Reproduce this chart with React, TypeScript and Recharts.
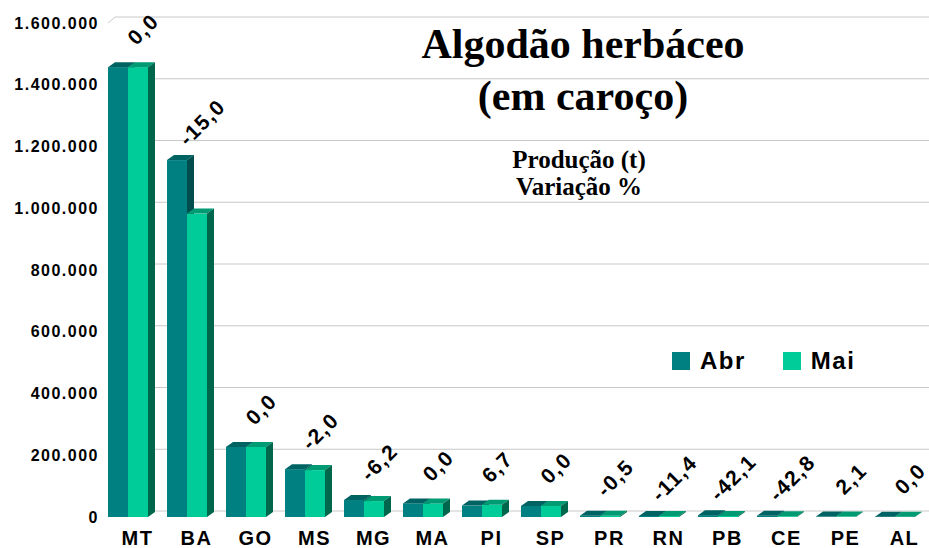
import { BarChart, Bar, XAxis, YAxis, CartesianGrid, LabelList } from 'recharts';

const estados = ['MT', 'BA', 'GO', 'MS', 'MG', 'MA', 'PI', 'SP', 'PR', 'RN', 'PB', 'CE', 'PE', 'AL'];
const producaoAbr = [1457000, 1156000, 227000, 155000, 55000, 44000, 37000, 36000, 4100, 3500, 6000, 4200, 1500, 1200];
const producaoMai = [1457000, 982600, 227000, 151900, 51600, 44000, 39500, 36000, 4100, 3100, 3500, 2400, 1530, 1200];
const variacao = ['0,0', '-15,0', '0,0', '-2,0', '-6,2', '0,0', '6,7', '0,0', '-0,5', '-11,4', '-42,1', '-42,8', '2,1', '0,0'];
const yTicks = [0, 200000, 400000, 600000, 800000, 1000000, 1200000, 1400000, 1600000];

const data = estados.map((uf, i) => ({ uf, abr: producaoAbr[i], mai: producaoMai[i], varia: variacao[i] }));

const SANS = "'Liberation Sans', Arial, sans-serif";
const SERIF = "'Liberation Serif', 'Times New Roman', serif";
const DX = 7;
const DY = 5;

const ABR = { front: '#008080', top: '#006363', side: '#004d4d' };
const MAI = { front: '#00cc99', top: '#009a73', side: '#00674d' };

const fmt = (v: number) => String(v).replace(/\B(?=(\d{3})+(?!\d))/g, '.');

const makeBar3D = (c: { front: string; top: string; side: string }) => (props: any) => {
  const { x, y, width: w, height: h } = props;
  if (x == null || y == null) return <g />;
  return (
    <g>
      <rect x={x} y={y} width={w} height={Math.max(h, 0)} fill={c.front} />
      <path d={`M${x},${y} L${x + DX},${y - DY} L${x + w + DX},${y - DY} L${x + w},${y} Z`} fill={c.top} />
      <path d={`M${x + w},${y} L${x + w + DX},${y - DY} L${x + w + DX},${y + h - DY} L${x + w},${y + h} Z`} fill={c.side} />
    </g>
  );
};

const gridLine = (props: any) => {
  const { x1, x2, y1, index } = props;
  return (
    <path
      key={`g-${index}`}
      d={`M${x1 + 10},${y1} L${x1 + 10 + DX},${y1 - 6} L${x2 + 6},${y1 - 6}`}
      stroke="#c8c8c8"
      strokeWidth={1}
      fill="none"
    />
  );
};

// rótulo de variação % acima do grupo
const VarLabel = (props: any) => {
  const { x, y, height, index } = props;
  const d = data[index];
  const base = y + height;
  const pxPerUnit = d.mai > 0 ? height / d.mai : 0;
  const top = base - Math.max(d.abr, d.mai) * pxPerUnit;
  const cx = x + 15;
  const cy = top - 38;
  return (
    <text
      x={cx}
      y={cy}
      transform={`rotate(-45, ${cx}, ${cy})`}
      textAnchor="middle"
      dominantBaseline="central"
      fontFamily={SANS}
      fontWeight={700}
      fontSize={21}
      letterSpacing={1.5}
      fill="#000"
    >
      {d.varia}
    </text>
  );
};

const UfTick = (props: any) => {
  const { x, y, payload } = props;
  return (
    <text x={x + 10} y={y + 20} textAnchor="middle" fontFamily={SANS} fontWeight={700} fontSize={20} letterSpacing={1.5} fill="#000">
      {payload.value}
    </text>
  );
};

const LegendBox = () => (
  <div
    style={{
      position: 'absolute',
      left: 672,
      top: 346,
      display: 'flex',
      alignItems: 'center',
      fontFamily: SANS,
      fontWeight: 700,
      fontSize: 24,
      letterSpacing: 1.5,
      lineHeight: '30px',
    }}
  >
    <span style={{ width: 18, height: 18, background: ABR.front, display: 'inline-block', marginRight: 10 }} />
    <span style={{ marginRight: 37 }}>Abr</span>
    <span style={{ width: 18, height: 18, background: MAI.front, display: 'inline-block', marginRight: 10 }} />
    <span>Mai</span>
  </div>
);

export default function App() {
  return (
    <div style={{ position: 'absolute', left: 0, top: 0, width: 929, height: 548, background: '#fff' }}>
      <BarChart
        width={929}
        height={548}
        data={data}
        margin={{ top: 23, right: 5, left: 0, bottom: 0 }}
        barSize={20}
        barGap={0}
      >
        <CartesianGrid vertical={false} horizontal={gridLine} />
        <XAxis dataKey="uf" axisLine={false} tickLine={false} height={31} interval={0} tick={<UfTick />} />
        <YAxis
          domain={[0, 1600000]}
          ticks={yTicks}
          tickFormatter={fmt}
          axisLine={false}
          tickLine={false}
          width={98}
          tickSize={0}
          tickMargin={0}
          tick={{ fontFamily: SANS, fontWeight: 700, fontSize: 16, fill: '#000', letterSpacing: 1.5, dx: 1 }}
        />
        <Bar dataKey="abr" name="Abr" fill={ABR.front} shape={makeBar3D(ABR)} isAnimationActive={false} />
        <Bar dataKey="mai" name="Mai" fill={MAI.front} shape={makeBar3D(MAI)} isAnimationActive={false}>
          <LabelList dataKey="mai" content={<VarLabel />} />
        </Bar>
      </BarChart>
      <LegendBox />
      <svg width={929} height={548} style={{ position: 'absolute', left: 0, top: 0, pointerEvents: 'none' }}>
        <g fontFamily={SERIF} fontWeight={700} fill="#000" textAnchor="middle">
          <text x={583} y={58} fontSize={42}>Algodão herbáceo</text>
          <text x={583} y={110} fontSize={42}>(em caroço)</text>
          <text x={579} y={168} fontSize={25}>Produção (t)</text>
          <text x={579} y={195} fontSize={25}>Variação %</text>
        </g>
      </svg>
    </div>
  );
}
